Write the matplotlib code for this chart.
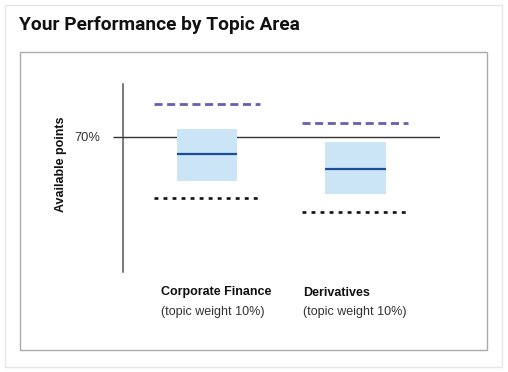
import matplotlib
matplotlib.use("Agg")
import matplotlib.pyplot as plt
from matplotlib.patches import Rectangle
from matplotlib.transforms import blended_transform_factory

# --- data -------------------------------------------------------------------
topics = ["Corporate Finance", "Derivatives"]
weights = ["(topic weight 10%)", "(topic weight 10%)"]
box_low = [47, 40]
box_high = [74, 67]
median = [61, 53]
upper_ref = [87, 77]
lower_ref = [38, 31]
passing = 70
tick_labels = ["70%"]

plt.rcParams["font.family"] = ["Liberation Sans", "DejaVu Sans"]
plt.rcParams["lines.scale_dashes"] = False

W, H = 508, 372
fig = plt.figure(figsize=(W / 100, H / 100), dpi=100)
fig.patch.set_facecolor("white")


def fx(px):
    return px / W


def fy(py):
    return 1 - py / H


# card + inner frame
fig.add_artist(Rectangle((fx(4.5), fy(366.5)), fx(497), (362) / H,
                         transform=fig.transFigure, fill=False,
                         ec="#e6e6e6", lw=1))
fig.add_artist(Rectangle((fx(20), fy(349.5)), fx(467), (297.5) / H,
                         transform=fig.transFigure, fill=False,
                         ec="#ababab", lw=1))
fig.text(fx(19), fy(25.5), "Your Performance by Topic Area", fontsize=13.8,
         fontweight="bold", family="Roboto", color="#111111", va="center")

ax = fig.add_axes([fx(122.5), fy(271.5), fx(440 - 122.5), (271.5 - 84) / H])
ax.set_xlim(-0.57, 1.57)
ax.set_ylim(0, 97.3)
for s in ["top", "right", "bottom"]:
    ax.spines[s].set_visible(False)
ax.spines["left"].set_color("#555555")
ax.spines["left"].set_linewidth(1.1)
ax.set_xticks([])
ax.set_yticks([passing])
ax.set_yticklabels(tick_labels, fontsize=9.3, color="#333333")
ax.tick_params(axis="y", length=7, width=1, color="#333333", pad=9)
ax.axhline(passing, color="#333333", lw=1, zorder=3)

box_w = 0.41
line_w = 0.715
for i in range(len(topics)):
    ax.add_patch(Rectangle((i - box_w / 2, box_low[i]), box_w,
                           box_high[i] - box_low[i], fc="#cbe5f6", ec="none",
                           zorder=4))
    ax.plot([i - box_w / 2, i + box_w / 2], [median[i]] * 2, color="#1c4e98",
            lw=1.6, zorder=5, solid_capstyle="butt")
    ax.plot([i - line_w / 2, i + line_w / 2], [upper_ref[i]] * 2,
            color="#6a5db0", lw=2.0, dashes=(5.8, 3.3), zorder=5)
    ax.plot([i - line_w / 2, i + line_w / 2], [lower_ref[i]] * 2,
            color="#111111", lw=1.9, dashes=(2.8, 3.7), zorder=5)

trans = blended_transform_factory(ax.transData, fig.transFigure)
label_dx = [-0.313, -0.352]
for i, (t, w) in enumerate(zip(topics, weights)):
    ax.text(i + label_dx[i], fy(292.5), t, transform=trans, fontsize=9,
            fontweight="bold", color="#111111", va="center", ha="left")
    ax.text(i + label_dx[i], fy(312), w, transform=trans, fontsize=9,
            color="#333333", va="center", ha="left")

fig.text(fx(61), fy(164), "Available points", rotation=90, fontsize=9,
         fontweight="bold", color="#111111", ha="center", va="center")

fig.savefig("out.png", dpi=100)
